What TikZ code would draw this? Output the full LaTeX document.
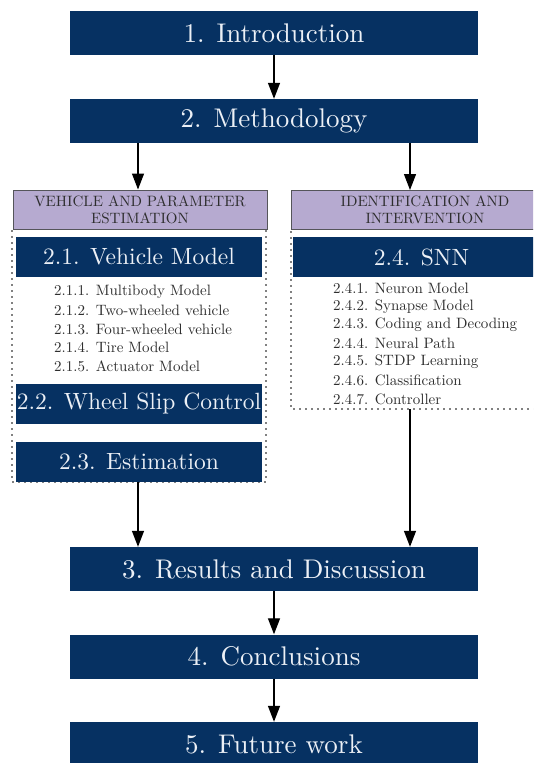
\documentclass[tikz,border=0pt]{standalone}
\usepackage{fontspec}
\usetikzlibrary{arrows.meta}
% Latin Modern at its 10pt design size for every size used below
\newfontfamily\lmten{lmroman10-regular}[Extension=.otf,Ligatures=TeX]
\newcommand{\tenfont}[2]{\lmten\fontsize{#1}{#2}\selectfont}
\definecolor{navy}{RGB}{6,49,98}
\definecolor{lav}{RGB}{182,170,208}
\definecolor{hdrline}{RGB}{85,85,90}
\definecolor{boxtxt}{RGB}{236,240,246}
\definecolor{itemtxt}{RGB}{45,45,45}
\begin{document}
\begin{tikzpicture}[x=1pt,y=-1pt,
  mainbox/.style={fill=navy,draw=none,minimum width=408pt,minimum height=44pt,inner sep=0pt,
    text=boxtxt,font=\tenfont{27}{32}},
  subbox/.style={fill=navy,draw=none,minimum width=246pt,minimum height=40pt,inner sep=0pt,
    text=boxtxt,font=\tenfont{23.5}{28}},
  hdr/.style={fill=lav,draw=hdrline,line width=1pt,minimum height=39pt,inner sep=0pt,
    text=itemtxt,align=center,font=\tenfont{15}{17}},
  item/.style={anchor=west,inner sep=0pt,text=itemtxt,font=\tenfont{15}{18}},
  group/.style={draw=black,line width=1.8pt,dash pattern=on 0pt off 6pt,line cap=round},
  link/.style={draw=black,line width=1.3pt,-{Triangle[length=16pt,width=12pt]}}]
\useasboundingbox (0,0) rectangle (533,763);
\begin{scope}
\clip (0,0) rectangle (533,763);

% main chapters
\node[mainbox] (intro) at (274,33) {1. Introduction};
\node[mainbox] (meth) at (274,121) {2. Methodology};
\node[mainbox] (res) at (274,569) {3. Results and Discussion};
\node[mainbox] (concl) at (274,656.5) {4. Conclusions};
\node[mainbox] (fut) at (274,744) {5. Future work};

% left column: vehicle and parameter estimation
\draw[group] (12,231) -- (12,482) -- (266,482) -- (266,231);
\coordinate (lbot) at (138,482);
\node[hdr,minimum width=254pt] (lhdr) at (140,209.5) {VEHICLE AND PARAMETER\\ESTIMATION};
\node[subbox] (vm) at (139,257) {2.1. Vehicle Model};
\node[item] (i211) at (54,292) {2.1.1. Multibody Model};
\node[item] (i212) at (54,310.5) {2.1.2. Two-wheeled vehicle};
\node[item] (i213) at (54,329) {2.1.3. Four-wheeled vehicle};
\node[item] (i214) at (54,347.5) {2.1.4. Tire Model};
\node[item] (i215) at (54,366) {2.1.5. Actuator Model};
\node[subbox] (wsc) at (139,403.5) {2.2. Wheel Slip Control};
\node[subbox] (est) at (139,462) {2.3. Estimation};

% right column: identification and intervention
\draw[group] (291,232) -- (291,409) -- (553,409);
\coordinate (rbot) at (410,409);
\node[hdr,minimum width=268pt] (rhdr) at (425,210) {IDENTIFICATION AND\\INTERVENTION};
\node[subbox,minimum width=257pt] (snn) at (421.5,257) {2.4. SNN};
\node[item] (i241) at (333,288) {2.4.1. Neuron Model};
\node[item] (i242) at (333,306.5) {2.4.2. Synapse Model};
\node[item] (i243) at (333,325) {2.4.3. Coding and Decoding};
\node[item] (i244) at (333,343.5) {2.4.4. Neural Path};
\node[item] (i245) at (333,362) {2.4.5. STDP Learning};
\node[item] (i246) at (333,380.5) {2.4.6. Classification};
\node[item] (i247) at (333,399) {2.4.7. Controller};

% connectors
\draw[link] (intro) -- (meth);
\draw[link] (meth.south -| lbot) -- (lhdr.north -| lbot);
\draw[link] (meth.south -| rbot) -- (rhdr.north -| rbot);
\draw[link] (lbot) -- (res.north -| lbot);
\draw[link] (rbot) -- (res.north -| rbot);
\draw[link] (res) -- (concl);
\draw[link] (concl) -- (fut);
\end{scope}
\end{tikzpicture}
\end{document}
